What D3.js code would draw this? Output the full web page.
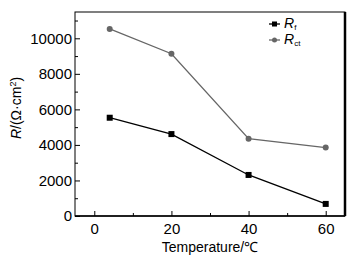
<!DOCTYPE html>
<html>
<head>
<meta charset="utf-8">
<script src="https://cdn.jsdelivr.net/npm/d3@7"></script>
<style>
  body { margin: 0; background: #fff; }
  text { font-family: "Liberation Sans", Arial, sans-serif; }
</style>
</head>
<body>
<div id="chart"></div>
<script>
// data
const temps = [4, 20, 40, 60]
const rf = [5530, 4610, 2310, 680]
const rct = [10530, 9130, 4350, 3850]
const xTicks = [0, 20, 40, 60]
const yTicks = [0, 2000, 4000, 6000, 8000, 10000]

// dimensions
let dimensions = {
    width: 352,
    height: 260,
    margin: { top: 12, right: 7, bottom: 44, left: 75 }
}
dimensions.boundedWidth = dimensions.width - dimensions.margin.left - dimensions.margin.right
dimensions.boundedHeight = dimensions.height - dimensions.margin.top - dimensions.margin.bottom

const wrapper = d3.select("#chart")
    .append("svg")
    .attr("width", dimensions.width)
    .attr("height", dimensions.height)

const bounds = wrapper.append("g")
    .attr("transform", `translate(${dimensions.margin.left},${dimensions.margin.top})`)

// scales
const xScale = d3.scaleLinear()
    .domain([-5, 65])
    .range([0, dimensions.boundedWidth])

const yScale = d3.scaleLinear()
    .domain([0, 11480])
    .range([dimensions.boundedHeight, 0])

// axes (ticks inside)
const xAxis = bounds.append("g")
    .attr("transform", `translate(0,${dimensions.boundedHeight})`)
    .call(d3.axisBottom(xScale).tickValues(xTicks).tickSize(-5).tickPadding(7).tickFormat(d3.format("d")))
const xMinor = bounds.append("g")
    .attr("transform", `translate(0,${dimensions.boundedHeight})`)
    .call(d3.axisBottom(xScale).tickValues([10, 30, 50]).tickSize(-3).tickFormat(""))

const yAxis = bounds.append("g")
    .call(d3.axisLeft(yScale).tickValues(yTicks).tickSize(-5).tickPadding(3).tickFormat(d3.format("d")))
const yMinor = bounds.append("g")
    .call(d3.axisLeft(yScale).tickValues([1000, 3000, 5000, 7000, 9000, 11000]).tickSize(-3).tickFormat(""))

;[xAxis, xMinor, yAxis, yMinor].forEach(a => {
    a.select(".domain").remove()
    a.selectAll("line").attr("stroke", "#000")
    a.selectAll("text").attr("fill", "#000").style("font-size", "15px")
})
xAxis.selectAll("text").attr("dy", "0.71em")

// frame
bounds.append("rect")
    .attr("width", dimensions.boundedWidth)
    .attr("height", dimensions.boundedHeight)
    .attr("fill", "none")
    .attr("stroke", "#000")
    .attr("stroke-width", 1)
bounds.append("line")
    .attr("x1", dimensions.boundedWidth).attr("x2", dimensions.boundedWidth)
    .attr("y1", 0).attr("y2", dimensions.boundedHeight)
    .attr("stroke", "#000").attr("stroke-width", 2.5)
bounds.append("line")
    .attr("x1", 0).attr("x2", dimensions.boundedWidth)
    .attr("y1", dimensions.boundedHeight).attr("y2", dimensions.boundedHeight)
    .attr("stroke", "#000").attr("stroke-width", 1.5)

// lines
const lineGen = d3.line()
    .x((d, i) => xScale(temps[i]))
    .y(d => yScale(d))

bounds.append("path")
    .attr("d", lineGen(rct))
    .attr("fill", "none")
    .attr("stroke", "#666")
    .attr("stroke-width", 1.3)

bounds.append("path")
    .attr("d", lineGen(rf))
    .attr("fill", "none")
    .attr("stroke", "#000")
    .attr("stroke-width", 1.3)

bounds.selectAll(".rct-dot")
    .data(rct).join("circle")
    .attr("class", "rct-dot")
    .attr("cx", (d, i) => xScale(temps[i]))
    .attr("cy", d => yScale(d))
    .attr("r", 3)
    .attr("fill", "#666")

bounds.selectAll(".rf-dot")
    .data(rf).join("rect")
    .attr("class", "rf-dot")
    .attr("x", (d, i) => xScale(temps[i]) - 3)
    .attr("y", d => yScale(d) - 3)
    .attr("width", 6)
    .attr("height", 6)
    .attr("fill", "#000")

// axis labels
const xLabel = wrapper.append("text")
    .attr("x", 210)
    .attr("y", 252)
    .attr("text-anchor", "middle")
    .style("font-size", "14px")
    .text("Temperature/℃")

const yLabel = wrapper.append("text")
    .attr("transform", `translate(21,${dimensions.margin.top + 96}) rotate(-90)`)
    .attr("text-anchor", "middle")
    .style("font-size", "14px")
yLabel.append("tspan").style("font-style", "italic").text("R")
yLabel.append("tspan").text("/(Ω·cm")
yLabel.append("tspan").attr("dy", -5).style("font-size", "9px").text("2")
yLabel.append("tspan").attr("dy", 5).text(")")

// legend
const legend = [
    { color: "#000", shape: "square", sub: "f" },
    { color: "#666", shape: "circle", sub: "ct" }
]
const legendGroup = wrapper.append("g")
    .attr("transform", "translate(269,24)")
legend.forEach((d, i) => {
    const g = legendGroup.append("g").attr("transform", `translate(0,${i * 16})`)
    g.append("line")
        .attr("x1", 0).attr("x2", 11)
        .attr("stroke", d.color).attr("stroke-width", 1.3)
    if (d.shape === "square") {
        g.append("rect").attr("x", 3).attr("y", -2.5).attr("width", 5).attr("height", 5).attr("fill", d.color)
    } else {
        g.append("circle").attr("cx", 5.5).attr("r", 2.5).attr("fill", d.color)
    }
    const t = g.append("text")
        .attr("x", 15).attr("y", 4)
        .style("font-size", "14px")
    t.append("tspan").style("font-style", "italic").text("R")
    t.append("tspan").attr("dy", 2).style("font-size", "8px").text(d.sub)
})
</script>
</body>
</html>
